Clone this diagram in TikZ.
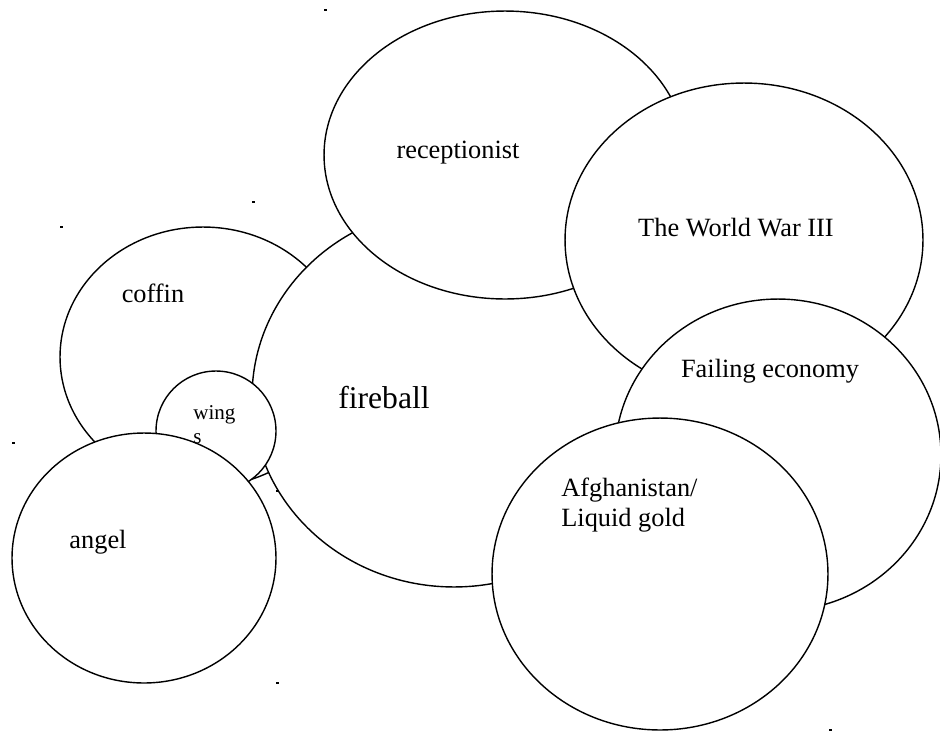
\documentclass[tikz,border=0pt]{standalone}
\usepackage{fontspec}
\setmainfont{Liberation Serif}
\usetikzlibrary{shapes.geometric}

\tikzset{
  bubble/.style={draw=black, fill=white, ellipse, line width=0.8pt, inner sep=0pt},
  word/.style={inner sep=0pt, font=\fontsize{15}{18}\selectfont},
}

\begin{document}
\begin{tikzpicture}[x=0.02cm, y=-0.02cm]
  \useasboundingbox (0,0) rectangle (940,731);

  % Stray specks
  \foreach \px/\py in {325/10, 565/83, 253/202, 61/227, 611/299, 157/371,
                       13/443, 493/418, 277/491, 277/683, 830/730}
    \fill (\px-1.5,\py-1) rectangle (\px+1.5,\py+1);

  % Bubbles, back to front
  \node[bubble, minimum width=5.72cm, minimum height=5.2cm] (coffin) at (203,357) {};
  \node[bubble, minimum width=8.08cm, minimum height=7.6cm] (fireball) at (454,397) {};
  \node[bubble, minimum width=7.24cm, minimum height=5.76cm] (recep) at (505,155) {};
  \node[bubble, minimum width=7.16cm, minimum height=6.28cm] (war) at (744,240) {};
  \node[bubble, minimum width=6.52cm, minimum height=6.24cm] (economy) at (778,455) {};
  \node[bubble, minimum width=6.72cm, minimum height=6.24cm] (afghan) at (660,574) {};
  \node[bubble, minimum width=2.4cm, minimum height=2.4cm] (wings) at (216,431) {};
  \node[bubble, minimum width=5.28cm, minimum height=5.0cm] (angel) at (144,558) {};

  % Labels
  \node[word] (coffin-txt) at (153,293) {coffin};
  \node[word, font=\fontsize{18}{21}\selectfont] (fireball-txt) at (384,398) {fireball};
  \node[word] (recep-txt) at (458,153) {receptionist};
  \node[word] (war-txt) at (736,228) {The World War III};
  \node[word] (economy-txt) at (770,371) {Failing economy};
  \node[word, anchor=west, align=left, font=\fontsize{15}{17}\selectfont] (afghan-txt) at (561,505) {Afghanistan/\\Liquid gold};
  \node[word, anchor=west, align=left, font=\fontsize{12}{13.6}\selectfont] (wings-txt) at (193,425) {wing\\s};
  \node[word] (angel-txt) at (98,542) {angel};
\end{tikzpicture}
\end{document}
